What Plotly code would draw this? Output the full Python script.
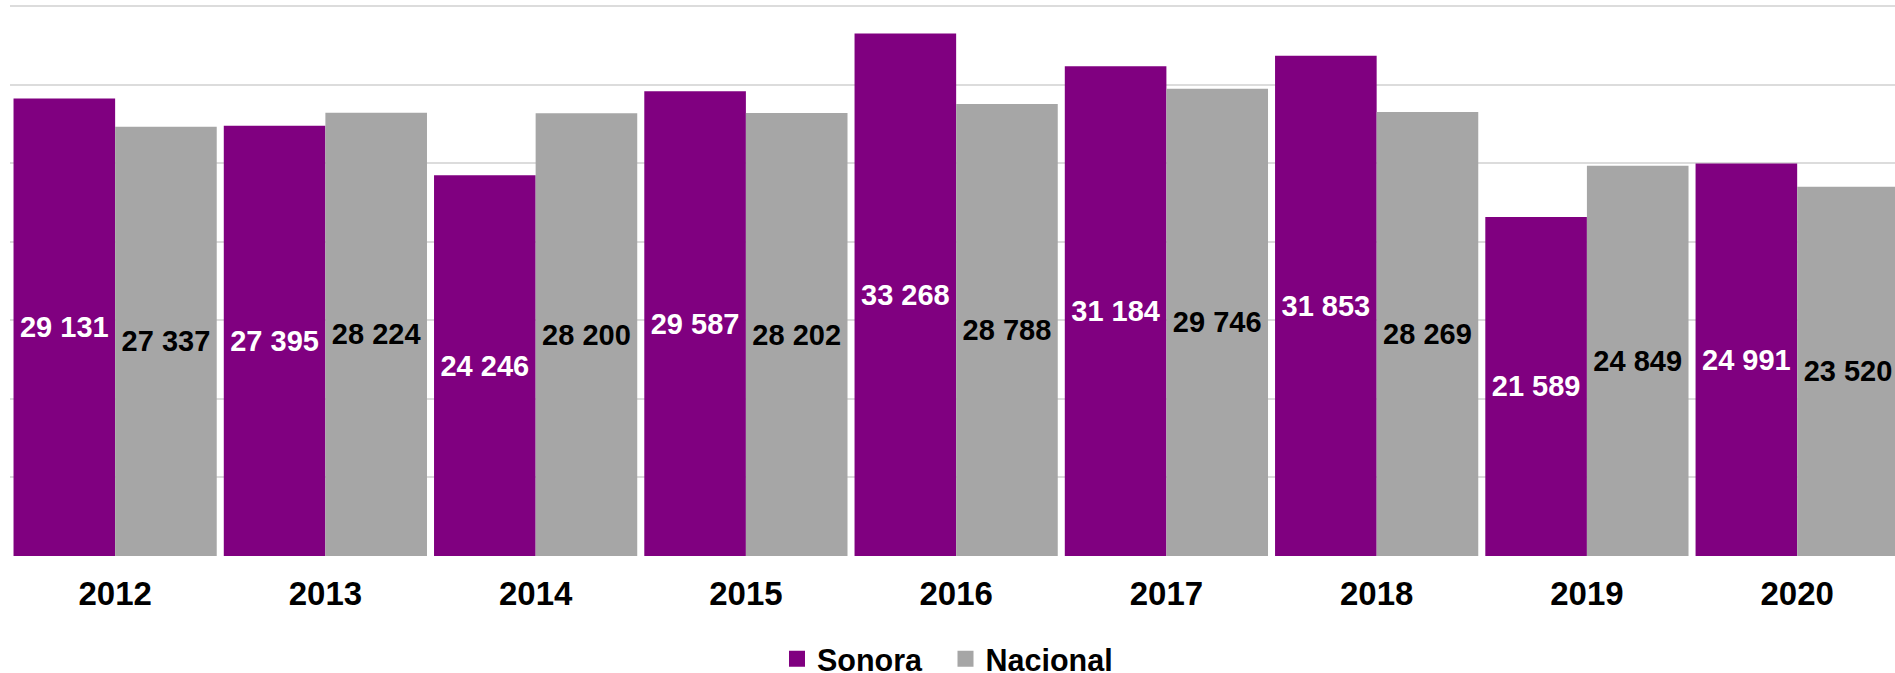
import plotly.graph_objects as go

years = ["2012", "2013", "2014", "2015", "2016", "2017", "2018", "2019", "2020"]
sonora = [29131, 27395, 24246, 29587, 33268, 31184, 31853, 21589, 24991]
nacional = [27337, 28224, 28200, 28202, 28788, 29746, 28269, 24849, 23520]
sonora_labels = ["29 131", "27 395", "24 246", "29 587", "33 268", "31 184", "31 853", "21 589", "24 991"]
nacional_labels = ["27 337", "28 224", "28 200", "28 202", "28 788", "29 746", "28 269", "24 849", "23 520"]

PURPLE = "#800080"
GREY = "#a6a6a6"
FONT = "Liberation Sans, Arial, sans-serif"

fig = go.Figure()
fig.add_trace(go.Bar(
    x=years, y=sonora, name="Sonora", text=sonora_labels,
    marker=dict(color=PURPLE, line=dict(width=0)),
    textposition="inside", insidetextanchor="middle", constraintext="none",
    textangle=0,
    textfont=dict(family=FONT, size=29, color="white", weight="bold"),
    showlegend=False, hoverinfo="skip",
))
fig.add_trace(go.Bar(
    x=years, y=nacional, name="Nacional", text=nacional_labels,
    marker=dict(color=GREY, line=dict(width=0)),
    textposition="inside", insidetextanchor="middle", constraintext="none",
    textangle=0,
    textfont=dict(family=FONT, size=29, color="black", weight="bold"),
    showlegend=False, hoverinfo="skip",
))
# legend entries with larger square swatches
fig.add_trace(go.Scatter(x=[None], y=[None], mode="markers", name="Sonora", legend="legend",
                         marker=dict(symbol="square", size=17, color=PURPLE)))
fig.add_trace(go.Scatter(x=[None], y=[None], mode="markers", name="Nacional", legend="legend2",
                         marker=dict(symbol="square", size=17, color=GREY)))

legend_common = dict(orientation="h", xref="container", yref="container",
                     xanchor="left", yanchor="middle", y=0.0208,
                     font=dict(size=30.5, family=FONT, color="black", weight="bold"),
                     itemwidth=30, bgcolor="rgba(0,0,0,0)")

fig.update_layout(
    width=1895, height=673,
    margin=dict(l=10, r=0, t=4, b=117),
    paper_bgcolor="white", plot_bgcolor="white",
    barmode="group", bargap=0.0335, bargroupgap=0,
    font=dict(family=FONT, color="black"),
    legend=dict(x=777 / 1895, **legend_common),
    legend2=dict(x=945.5 / 1895, **legend_common),
    xaxis=dict(type="category", range=[-0.5, 8.4653], showgrid=False, zeroline=False,
               showline=False, ticks="", ticklabelstandoff=15,
               tickfont=dict(size=33, family=FONT, color="black", weight="bold")),
    yaxis=dict(range=[0, 35150], tickvals=[0, 5000, 10000, 15000, 20000, 25000, 30000, 35000],
               showgrid=True, gridcolor="#dcdcdc",
               gridwidth=2, zeroline=False, showticklabels=False, showline=False),
)

fig.write_html("out.html", config={"displayModeBar": False},
               post_script="document.body.style.margin='0';")
